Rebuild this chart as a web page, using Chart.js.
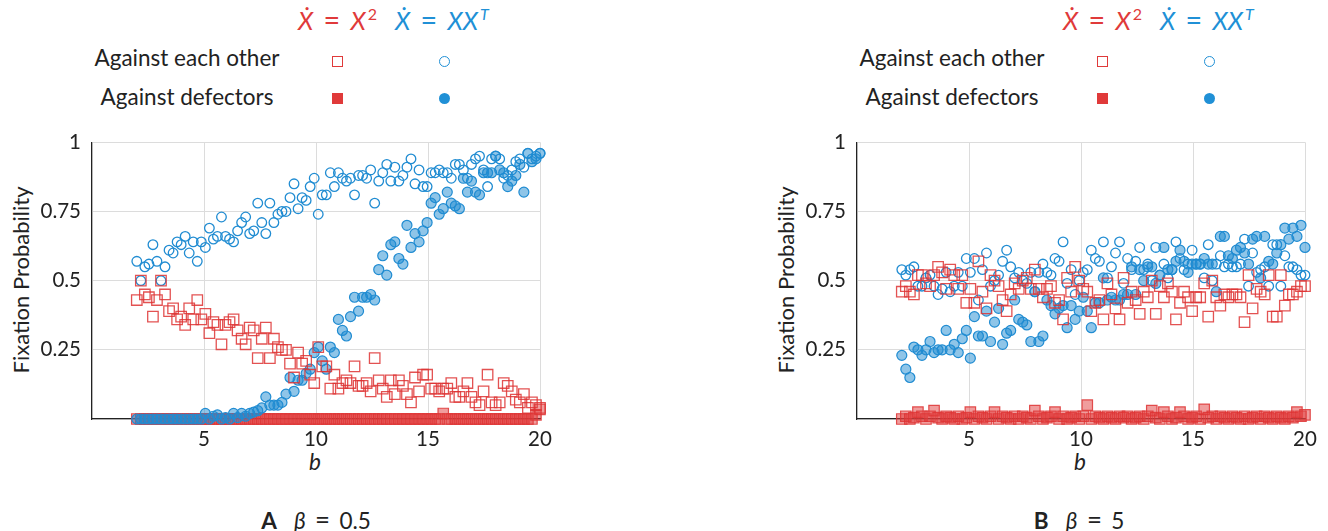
<!DOCTYPE html>
<html>
<head>
<meta charset="utf-8">
<script src="https://cdn.jsdelivr.net/npm/chart.js@4.4.1/dist/chart.umd.min.js"></script>
<style>
  body { margin: 0; background: #fff; font-family: Lato, 'Open Sans', sans-serif; color: #222; }
  #page { position: relative; width: 1328px; height: 531px; overflow: hidden; }
  .t { position: absolute; white-space: nowrap; font-size: 22.5px; line-height: 26px; }
  .h { font-size: 25px; line-height: 30px; }
  .eq { margin: 0 0.36em; font-size: 1.15em; line-height: 0; }
  .c { text-align: center; width: 200px; }
  .red { color: #e03a3a; }
  .blue { color: #2090d6; }
  .t sup { font-size: 16px; vertical-align: 10px; line-height: 0; margin-left: 2px; }
  .mk { position: absolute; box-sizing: border-box; width: 11px; height: 11px; }
  .sq-o { border: 1.5px solid #e03a3a; }
  .sq-f { background: #e03a3a; }
  .ci-o { border: 1.5px solid #2090d6; border-radius: 50%; }
  .ci-f { background: #2090d6; border-radius: 50%; }
  .ytitle { position: absolute; font-size: 22px; line-height: 26px; white-space: nowrap; transform: translate(-50%, -50%) rotate(-90deg); }
  canvas { position: absolute; top: 119px; }
</style>
</head>
<body>
<div id="page">
  <!-- panel A -->
  <div class="t h red" style="left:298px;top:5px"><i>Ẋ</i><span class="eq">=</span><i>X</i><sup>2</sup></div>
  <div class="t h blue" style="left:395px;top:5px"><i>Ẋ</i><span class="eq">=</span><i>XX</i><sup><i>T</i></sup></div>
  <div class="t c" style="left:87px;top:45px">Against each other</div>
  <div class="t c" style="left:87px;top:84px">Against defectors</div>
  <div class="mk sq-o" style="left:332px;top:56px"></div>
  <div class="mk ci-o" style="left:439px;top:56px"></div>
  <div class="mk sq-f" style="left:332px;top:93px"></div>
  <div class="mk ci-f" style="left:439px;top:93px"></div>
  <div class="ytitle" style="left:21px;top:280px">Fixation Probability</div>
  <div class="t" style="left:309px;top:449px"><i>b</i></div>
  <div class="t c" style="left:216px;top:508px"><b>A</b>&nbsp;&nbsp; <i>β</i><span class="eq">=</span>0.5</div>
  <canvas id="chartA" width="560" height="336" style="left:0px"></canvas>

  <!-- panel B -->
  <div class="t h red" style="left:1063px;top:5px"><i>Ẋ</i><span class="eq">=</span><i>X</i><sup>2</sup></div>
  <div class="t h blue" style="left:1160px;top:5px"><i>Ẋ</i><span class="eq">=</span><i>XX</i><sup><i>T</i></sup></div>
  <div class="t c" style="left:852px;top:45px">Against each other</div>
  <div class="t c" style="left:852px;top:84px">Against defectors</div>
  <div class="mk sq-o" style="left:1097px;top:56px"></div>
  <div class="mk ci-o" style="left:1204px;top:56px"></div>
  <div class="mk sq-f" style="left:1097px;top:93px"></div>
  <div class="mk ci-f" style="left:1204px;top:93px"></div>
  <div class="ytitle" style="left:786px;top:280px">Fixation Probability</div>
  <div class="t" style="left:1074px;top:449px"><i>b</i></div>
  <div class="t c" style="left:979px;top:508px"><b>B</b>&nbsp;&nbsp; <i>β</i><span class="eq">=</span>5</div>
  <canvas id="chartB" width="560" height="336" style="left:765px"></canvas>
</div>

<script>
// b values (x axis), shared by every series
const bValues = [
  2, 2.18, 2.36, 2.54, 2.72, 2.9, 3.08, 3.26, 3.44, 3.62,
  3.8, 3.98, 4.16, 4.34, 4.52, 4.7, 4.88, 5.06, 5.24, 5.42,
  5.6, 5.78, 5.96, 6.14, 6.32, 6.5, 6.68, 6.86, 7.04, 7.22,
  7.4, 7.58, 7.76, 7.94, 8.12, 8.3, 8.48, 8.66, 8.84, 9.02,
  9.2, 9.38, 9.56, 9.74, 9.92, 10.1, 10.28, 10.46, 10.64, 10.82,
  11, 11.18, 11.36, 11.54, 11.72, 11.9, 12.08, 12.26, 12.44, 12.62,
  12.8, 12.98, 13.16, 13.34, 13.52, 13.7, 13.88, 14.06, 14.24, 14.42,
  14.6, 14.78, 14.96, 15.14, 15.32, 15.5, 15.68, 15.86, 16.04, 16.22,
  16.4, 16.58, 16.76, 16.94, 17.12, 17.3, 17.48, 17.66, 17.84, 18.02,
  18.2, 18.38, 18.56, 18.74, 18.92, 19.1, 19.28, 19.46, 19.64, 19.82,
  20
];

const xTicks = [5, 10, 15, 20];
const yTicks = [0.25, 0.5, 0.75, 1];

// --- A: beta = 0.5 ---
const sqEachOtherA = [
  .43, .50, .45, .44, .37, .43, .50, .45, .39, .40,
  .36, .37, .34, .40, .36, .43, .36, .38, .31, .35,
  .34, .27, .34, .35, .36, .32, .29, .27, .33, .32,
  .22, .29, .33, .22, .29, .26, .25, .25, .20, .15,
  .24, .20, .21, .16, .13, .26, .19, .19, .11, .16,
  .11, .13, .14, .13, .19, .12, .12, .13, .10, .22,
  .14, .11, .08, .14, .09, .14, .12, .09, .06, .15,
  .10, .16, .16, .11, .11, .10, .11, .11, .13, .08,
  .08, .10, .13, .08, .06, .05, .10, .16, .06, .05,
  .06, .13, .12, .10, .07, .06, .09, .04, .06, .05,
  .04
];
const ciEachOtherA = [
  .57, .50, .55, .56, .63, .57, .50, .55, .61, .60,
  .64, .63, .66, .60, .64, .57, .64, .62, .69, .65,
  .66, .73, .66, .65, .64, .68, .71, .73, .67, .68,
  .78, .71, .67, .78, .71, .74, .75, .75, .80, .85,
  .76, .80, .79, .84, .87, .74, .81, .81, .89, .84,
  .89, .87, .86, .87, .81, .88, .88, .87, .90, .78,
  .86, .89, .92, .86, .91, .86, .88, .91, .94, .85,
  .90, .84, .84, .89, .89, .90, .89, .89, .87, .92,
  .92, .90, .87, .92, .94, .95, .90, .84, .94, .95,
  .94, .87, .88, .90, .93, .94, .91, .96, .94, .95,
  .96
];
const sqDefectorsA = [
  0, 0, 0, 0, 0, 0, 0, 0, 0, 0,
  0, 0, 0, 0, 0, 0, 0, 0, 0, 0,
  0, 0, 0, 0, 0, 0, 0, 0, 0, 0,
  0, 0, 0, 0, 0, 0, 0, 0, 0, 0,
  0, 0, 0, 0, 0, 0, 0, 0, 0, 0,
  0, 0, 0, 0, 0, 0, 0, 0, 0, 0,
  0, 0, 0, 0, 0, 0, 0, 0, 0, 0,
  0, 0, 0, 0, 0, 0, .02, 0, 0, 0,
  0, 0, 0, 0, 0, 0, 0, 0, 0, 0,
  0, 0, 0, 0, 0, 0, 0, 0, 0, .015,
  .035
];
const ciDefectorsA = [
  0, 0, 0, 0, 0, 0, 0, 0, 0, 0,
  0, 0, 0, 0, 0, 0, 0, .02, 0, .01,
  .015, 0, .005, 0, .02, .005, .02, .01, .02, .025,
  .03, .04, .08, .05, .05, .05, .06, .09, .15, .10,
  .14, .14, .165, .18, .24, .26, .21, .18, .26, .24,
  .36, .32, .30, .37, .44, .39, .44, .44, .45, .43,
  .54, .59, .52, .63, .64, .58, .56, .70, .62, .67,
  .64, .68, .71, .78, .80, .74, .76, .82, .78, .77,
  .76, .87, .82, .86, .82, .81, .89, .89, .89, .95,
  .90, .89, .84, .86, .88, .92, .82, .96, .93, .94,
  .96
];

// --- B: beta = 5 ---
const sqEachOtherB = [
  .46, .48, .46, .45, .52, .52, .49, .48, .52, .55,
  .53, .47, .54, .52, .47, .52, .42, .47, .42, .57,
  .46, .40, .52, .50, .48, .43, .39, .45, .49, .47,
  .50, .51, .47, .54, .47, .44, .47, .48, .42, .43,
  .36, .51, .46, .55, .50, .47, .46, .39, .42, .43,
  .36, .49, .45, .40, .36, .51, .42, .46, .43, .38,
  .46, .44, .50, .38, .48, .44, .49, .46, .36, .42,
  .46, .44, .39, .44, .44, .49, .37, .50, .44, .41,
  .45, .44, .45, .45, .44, .35, .52, .40, .47, .46,
  .45, .52, .37, .37, .52, .41, .45, .45, .46, .48,
  .48
];
const ciEachOtherB = [
  .54, .52, .54, .55, .48, .48, .51, .52, .48, .45,
  .47, .53, .46, .48, .53, .48, .58, .53, .58, .43,
  .54, .60, .48, .50, .52, .57, .61, .55, .51, .53,
  .50, .49, .53, .46, .53, .56, .53, .52, .58, .57,
  .64, .49, .54, .45, .50, .53, .54, .61, .58, .57,
  .64, .51, .55, .60, .64, .49, .58, .54, .57, .62,
  .54, .56, .50, .62, .52, .56, .51, .54, .64, .58,
  .54, .56, .61, .56, .56, .51, .63, .50, .56, .59,
  .55, .56, .55, .55, .56, .65, .48, .60, .53, .54,
  .55, .48, .63, .63, .48, .59, .55, .55, .54, .52,
  .52
];
const sqDefectorsB = [
  0, .01, 0, .005, .025, .01, 0, .01, .03, .005,
  0, .01, .005, 0, .01, 0, .005, .025, 0, .01,
  .005, 0, .01, .025, 0, .01, .005, 0, .01, 0,
  .01, .005, 0, .03, .01, 0, .005, .01, .025, 0,
  .01, 0, .005, .01, 0, .01, .05, 0, .01, .005,
  0, .01, .005, 0, .01, .005, .01, 0, .005, .01,
  0, .01, .03, .005, 0, .025, .01, 0, .005, .025,
  .01, 0, .005, .01, 0, .035, .005, .01, 0, .01,
  .005, 0, .01, .005, 0, .01, 0, .005, .01, 0,
  .01, .005, 0, .01, .005, 0, .01, .005, .025, .01,
  .015
];
const ciDefectorsB = [
  .23, .18, .15, .26, .25, .23, .25, .28, .24, .25,
  .25, .32, .25, .27, .24, .29, .32, .22, .37, .30,
  .30, .39, .28, .35, .40, .27, .31, .32, .43, .36,
  .35, .34, .28, .46, .28, .30, .43, .41, .38, .40,
  .41, .33, .41, .36, .39, .44, .39, .33, .42, .42,
  .51, .43, .44, .43, .43, .45, .45, .55, .45, .54,
  .50, .55, .55, .49, .52, .62, .54, .54, .57, .61,
  .57, .53, .56, .56, .56, .58, .56, .56, .46, .66,
  .66, .59, .58, .61, .62, .60, .56, .65, .66, .51,
  .66, .57, .56, .60, .63, .69, .65, .69, .66, .70,
  .62
];

const RED = 'rgba(222, 52, 52, 0.85)';
const BLUE = 'rgba(32, 140, 210, 1)';

function toPoints(values) {
  return bValues.map((b, i) => ({ x: b, y: values[i] }));
}

function makeChart(id, sqEach, ciEach, sqDef, ciDef) {
  const ctx = document.getElementById(id).getContext('2d');
  return new Chart(ctx, {
    type: 'scatter',
    data: {
      datasets: [
        // first dataset is drawn on top
        { label: 'X^2 against each other', data: toPoints(sqEach), pointStyle: 'rect', pointRadius: 7.4,
          borderWidth: 1.3, borderColor: RED, backgroundColor: 'rgba(0,0,0,0)', clip: false },
        { label: 'XX^T against defectors', data: toPoints(ciDef), pointStyle: 'circle', pointRadius: 5,
          borderWidth: 1.2, borderColor: BLUE, backgroundColor: 'rgba(32, 140, 210, 0.5)', clip: false },
        { label: 'X^2 against defectors', data: toPoints(sqDef), pointStyle: 'rect', pointRadius: 7.4,
          borderWidth: 1.2, borderColor: RED, backgroundColor: 'rgba(225, 60, 60, 0.5)', clip: false },
        { label: 'XX^T against each other', data: toPoints(ciEach), pointStyle: 'circle', pointRadius: 4.8,
          borderWidth: 1.3, borderColor: BLUE, backgroundColor: 'rgba(0,0,0,0)', clip: false }
      ]
    },
    options: {
      responsive: false,
      animation: false,
      devicePixelRatio: 1,
      layout: { padding: { top: 0, right: 20, left: 0, bottom: 0 } },
      plugins: { legend: { display: false }, tooltip: { enabled: false } },
      elements: { point: { hoverRadius: 5 } },
      scales: {
        x: {
          type: 'linear', min: 0, max: 20,
          afterFit: s => { s.height = 36; },
          afterBuildTicks: s => { s.ticks = [0].concat(xTicks).map(v => ({ value: v })); },
          grid: { color: '#dcdcdc', lineWidth: 1, drawTicks: false },
          border: { color: '#222', width: 1.2 },
          ticks: { padding: 8, color: '#222', font: { family: 'Lato', size: 20.5 },
                   callback: v => (v === 0 ? '' : String(v)) }
        },
        y: {
          min: 0, max: 1,
          afterFit: s => { s.width = 92; },
          afterBuildTicks: s => { s.ticks = [0].concat(yTicks).map(v => ({ value: v })); },
          grid: { color: '#dcdcdc', lineWidth: 1, drawTicks: false },
          border: { color: '#222', width: 1.2 },
          ticks: { padding: 11, color: '#222', font: { family: 'Lato', size: 20.5 },
                   callback: v => (v === 0 ? '' : String(v)) }
        }
      }
    }
  });
}

makeChart('chartA', sqEachOtherA, ciEachOtherA, sqDefectorsA, ciDefectorsA);
makeChart('chartB', sqEachOtherB, ciEachOtherB, sqDefectorsB, ciDefectorsB);
</script>
</body>
</html>
